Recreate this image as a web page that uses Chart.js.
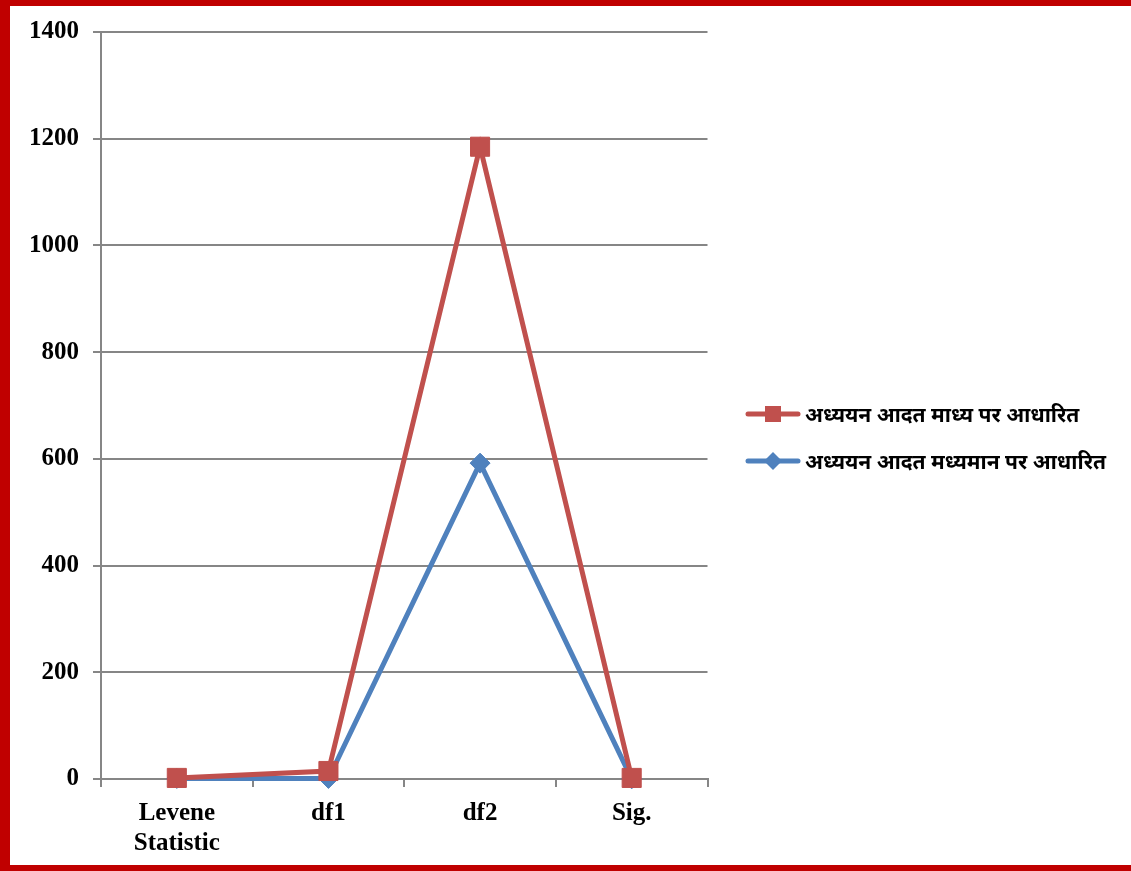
<!DOCTYPE html>
<html>
<head>
<meta charset="utf-8">
<script src="https://cdn.jsdelivr.net/npm/chart.js@4"></script>
<style>
  html, body { margin: 0; padding: 0; background: #fff; }
  #frame {
    position: absolute; left: 0; top: 0;
    width: 1131px; height: 871px; box-sizing: border-box;
    border-top: 6px solid #c00000; border-left: 10px solid #c00000; border-bottom: 6px solid #c00000;
  }
  #wrap { position: absolute; left: 0; top: -3px; width: 712px; height: 868px; }
  #legend { position: absolute; left: 735px; top: 387px; font-family: 'Noto Sans', sans-serif; font-size: 21px; font-weight: bold; color: #000; }
  .item { display: flex; align-items: center; height: 42px; margin-bottom: 5px; white-space: nowrap; }
  .item canvas { margin-right: 4px; }
</style>
</head>
<body>
<div id="frame">
  <div id="wrap"><canvas id="chart"></canvas></div>
  <div id="legend"></div>
</div>
<script>
const categories = [['Levene', 'Statistic'], 'df1', 'df2', 'Sig.'];
const meanLabel = 'अध्ययन आदत माध्य पर आधारित';
const medianLabel = 'अध्ययन आदत मध्यमान पर आधारित';
const meanValues = [2, 15, 1185, 2];
const medianValues = [1, 1, 592, 0.3];
const yTicks = [0, 200, 400, 600, 800, 1000, 1200, 1400];

const RED = '#c0504d';
const BLUE = '#4f81bd';

// small legend glyphs: line with a marker in the middle
function legendGlyph(color, shape) {
    const c = document.createElement('canvas');
    c.width = 56; c.height = 22;
    const g = c.getContext('2d');
    g.strokeStyle = color; g.lineWidth = 5; g.lineCap = 'round';
    g.beginPath(); g.moveTo(3, 11); g.lineTo(53, 11); g.stroke();
    g.fillStyle = color;
    if (shape === 'square') {
        g.fillRect(20, 3, 16, 16);
    } else {
        g.beginPath();
        g.moveTo(28, 2); g.lineTo(37, 11); g.lineTo(28, 20); g.lineTo(19, 11);
        g.closePath(); g.fill();
    }
    return c;
}

const ctx = document.getElementById('chart').getContext('2d');
const chart = new Chart(ctx, {
    type: 'line',
    data: {
        labels: categories,
        datasets: [{
            label: meanLabel,
            data: meanValues,
            borderColor: RED,
            backgroundColor: RED,
            borderWidth: 5,
            pointStyle: 'rect',
            pointRadius: 13.5,
            pointHoverRadius: 13.5,
            pointBorderWidth: 1,
            clip: false,
            tension: 0
        }, {
            label: medianLabel,
            data: medianValues,
            borderColor: BLUE,
            backgroundColor: BLUE,
            borderWidth: 5,
            pointStyle: 'rectRot',
            pointRadius: 10,
            pointHoverRadius: 10,
            pointBorderWidth: 1,
            clip: false,
            tension: 0
        }]
    },
    options: {
        responsive: true,
        maintainAspectRatio: false,
        animation: false,
        layout: { padding: { top: 5, left: 5, right: 5, bottom: 0 } },
        plugins: {
            tooltip: { enabled: false },
            legend: { display: false }
        },
        scales: {
            x: {
                offset: true,
                grid: { offset: true, drawOnChartArea: false, color: '#868686', lineWidth: 2, tickLength: 8 },
                border: { color: '#868686', width: 2 },
                ticks: {
                    color: '#000', padding: 12, maxRotation: 0,
                    font: { family: "'Liberation Serif', 'Times New Roman', serif", size: 25, weight: 'bold', lineHeight: 1.2 }
                }
            },
            y: {
                min: 0, max: 1400,
                afterBuildTicks: axis => { axis.ticks = yTicks.map(v => ({ value: v })); },
                grid: { color: '#868686', lineWidth: 2, tickLength: 8 },
                border: { color: '#868686', width: 2 },
                ticks: {
                    color: '#000', padding: 14,
                    callback: v => String(v),
                    font: { family: "'Liberation Serif', 'Times New Roman', serif", size: 25, weight: 'bold' }
                }
            }
        }
    }
});

// html legend built from the chart's datasets
const legendEl = document.getElementById('legend');
chart.data.datasets.forEach((ds, i) => {
    const row = document.createElement('div');
    row.className = 'item';
    row.appendChild(legendGlyph(ds.borderColor, i === 0 ? 'square' : 'diamond'));
    const span = document.createElement('span');
    span.textContent = ds.label;
    row.appendChild(span);
    legendEl.appendChild(row);
});
</script>
</body>
</html>
